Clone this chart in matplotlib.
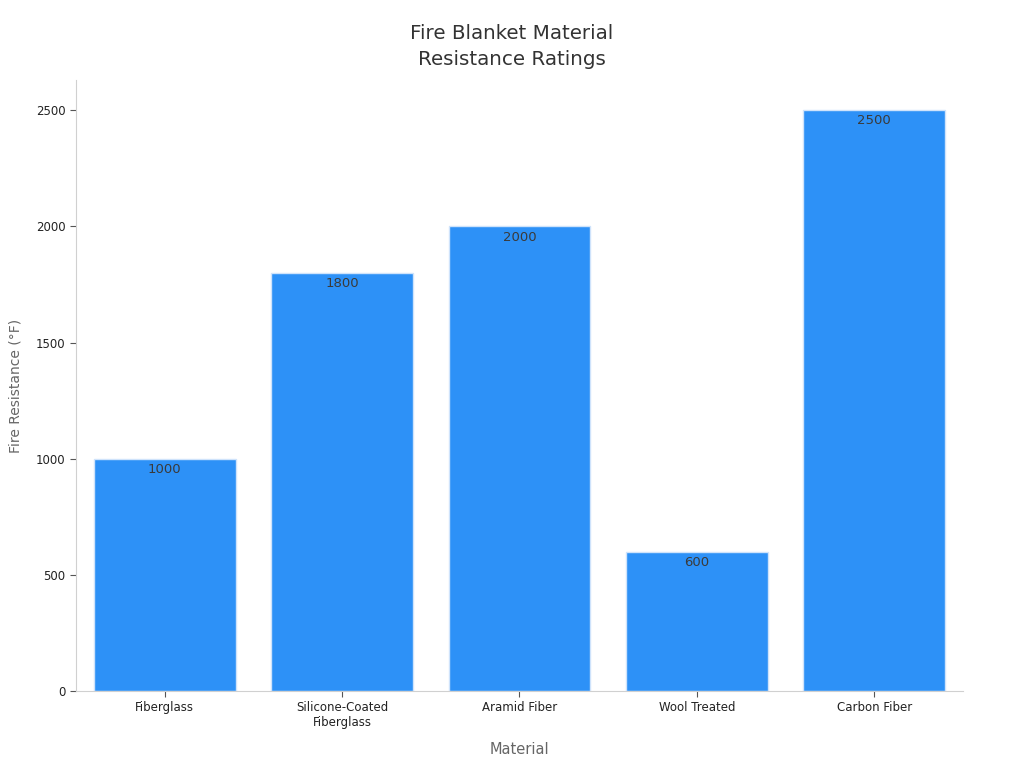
import matplotlib.pyplot as plt

# Chart data
materials = ['Fiberglass', 'Silicone-Coated\nFiberglass', 'Aramid Fiber', 'Wool Treated', 'Carbon Fiber']
resistance = [1000, 1800, 2000, 600, 2500]
yticks = [0, 500, 1000, 1500, 2000, 2500]

fig = plt.figure(figsize=(10.24, 7.68), dpi=100)
ax = fig.add_axes([0.0742, 0.1003, 0.8662, 0.7955])

x = range(len(materials))
bars = ax.bar(x, resistance, width=0.8, color='#2d91f7', edgecolor='#cfe3fb', linewidth=1)

# value labels just inside the top of each bar
for b, v in zip(bars, resistance):
    ax.annotate(str(v), (b.get_x() + b.get_width() / 2, v), xytext=(0, -3),
                textcoords='offset points', ha='center', va='top',
                fontsize=9.5, color='#3a3a3a')

ax.set_xlim(-0.5, 4.5)
ax.set_ylim(0, 2630)
ax.set_xticks(list(x))
ax.set_xticklabels(materials, fontsize=8.5, color='#222222')
ax.set_yticks(yticks)
ax.set_yticklabels([str(t) for t in yticks], fontsize=8.5, color='#222222')
ax.tick_params(axis='both', color='#555555', length=4)

for s in ['top', 'right']:
    ax.spines[s].set_visible(False)
for s in ['left', 'bottom']:
    ax.spines[s].set_color('#d0d0d0')

ax.set_xlabel('Material', fontsize=10.5, color='#666666', labelpad=9)
ax.set_ylabel('Fire Resistance (°F)', fontsize=10, color='#666666', labelpad=10)
# title is centred on the figure, not on the axes
ax.set_title('Fire Blanket Material\nResistance Ratings', fontsize=14.3, color='#333333',
             pad=11, linespacing=1.45, x=(0.5 - 0.0742) / 0.8662)

fig.savefig('out.png', dpi=100)
